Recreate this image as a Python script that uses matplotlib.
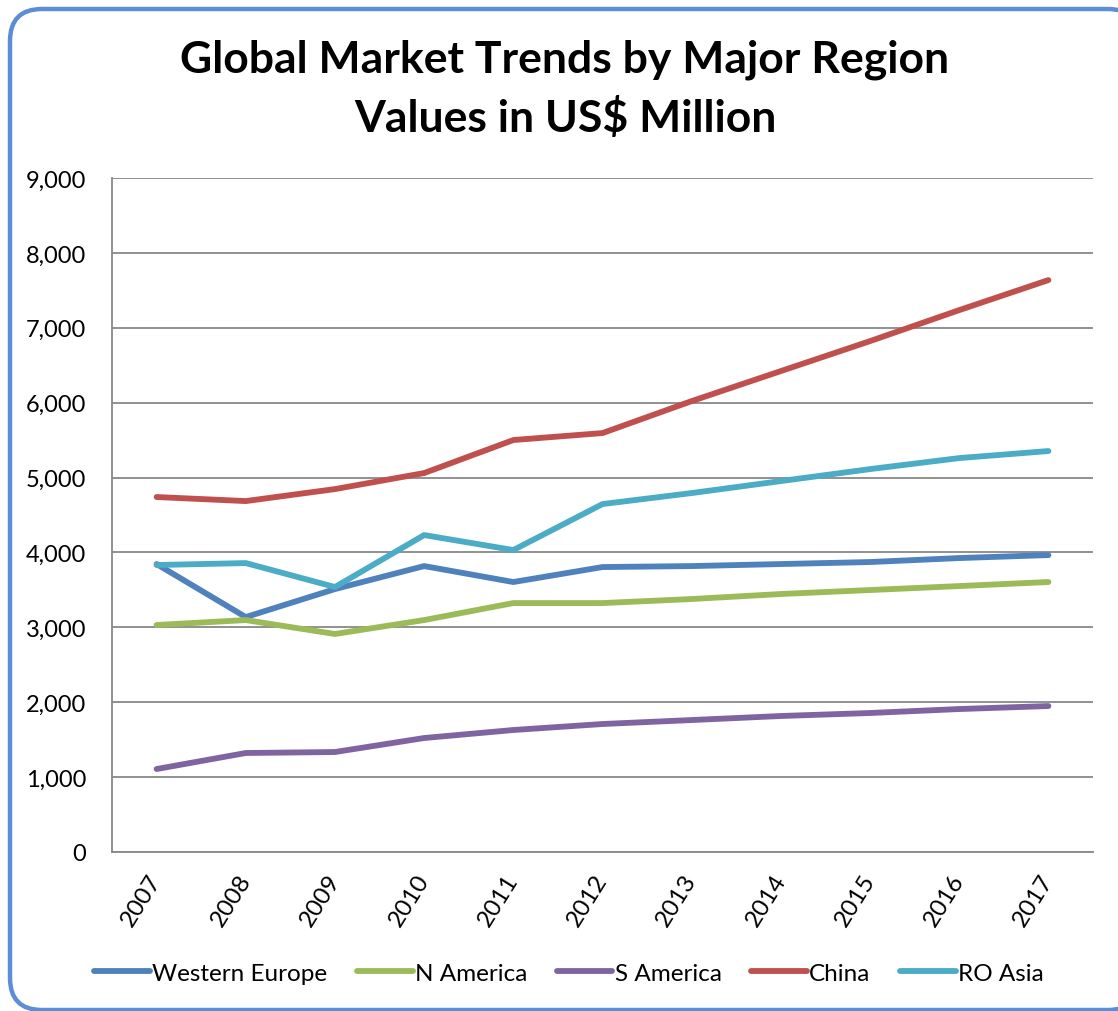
import numpy as np
from matplotlib import pyplot as plt
from matplotlib.patches import FancyBboxPatch

plt.rcParams['font.family'] = ['Lato', 'DejaVu Sans']

years = ["2007", "2008", "2009", "2010", "2011", "2012",
         "2013", "2014", "2015", "2016", "2017"]

western_europe = [3845, 3137, 3511, 3818, 3605, 3805, 3818, 3845, 3872, 3925, 3965]
n_america = [3031, 3097, 2911, 3097, 3324, 3324, 3378, 3445, 3498, 3551, 3605]
s_america = [1108, 1322, 1335, 1522, 1629, 1709, 1762, 1816, 1856, 1909, 1949]
china = [4740, 4686, 4846, 5060, 5501, 5594, 6021, 6422, 6822, 7236, 7637]
ro_asia = [3832, 3858, 3538, 4232, 4032, 4646, 4793, 4953, 5113, 5260, 5354]

series = [
    ("Western Europe", western_europe, "#4F81BD"),
    ("N America", n_america, "#9BBB59"),
    ("S America", s_america, "#8064A2"),
    ("China", china, "#C0504D"),
    ("RO Asia", ro_asia, "#4BACC6"),
]

W, H = 1118, 1012
fig = plt.figure(figsize=(W / 100, H / 100), dpi=100)

# rounded chart border (inches), runs off the right edge
box = FancyBboxPatch((0.10, 0.01), 11.3, 10.01,
                     boxstyle="round,pad=0,rounding_size=0.32",
                     transform=fig.dpi_scale_trans, facecolor="white",
                     edgecolor="#5B8ED6", linewidth=3.2, zorder=-1)
fig.patches.append(box)

ax = fig.add_axes([112 / W, 1 - 853 / H, (1093 - 112) / W, (853 - 179) / H])
ax.set_facecolor("none")

x = np.arange(len(years))
for name, vals, col in series:
    ax.plot(x, vals, color=col, linewidth=4.2, label=name,
            solid_capstyle="round", solid_joinstyle="round")

ax.set_xlim(-0.5, len(years) - 0.5)
ax.set_ylim(0, 9000)
ax.set_yticks(np.arange(0, 9001, 1000))
ax.set_yticklabels(["{:,}".format(v) for v in range(0, 9001, 1000)], fontsize=17)
ax.set_xticks(x)
ax.set_xticklabels(years, fontsize=17.5, rotation=58, ha="right",
                   va="center", rotation_mode="anchor")
ax.tick_params(axis="x", length=0, pad=17)
ax.tick_params(axis="y", length=0, pad=18.5)
ax.grid(axis="y", color="#888888", linewidth=1.3)
ax.set_axisbelow(True)
for s in ["top", "right"]:
    ax.spines[s].set_visible(False)
for s in ["left", "bottom"]:
    ax.spines[s].set_color("#888888")
    ax.spines[s].set_linewidth(1.3)

fig.text(565 / W, 1 - 60 / H, "Global Market Trends by Major Region",
         ha="center", va="center", fontsize=32, fontweight="bold")
fig.text(565 / W, 1 - 118 / H, "Values in US$ Million",
         ha="center", va="center", fontsize=32, fontweight="bold")

fig.legend(loc="center", bbox_to_anchor=(569 / W, 1 - 974 / H), ncol=5,
           frameon=False, fontsize=17.5, handlelength=2.3, handletextpad=0.1,
           columnspacing=1.2)

fig.savefig("out.png", dpi=100)
